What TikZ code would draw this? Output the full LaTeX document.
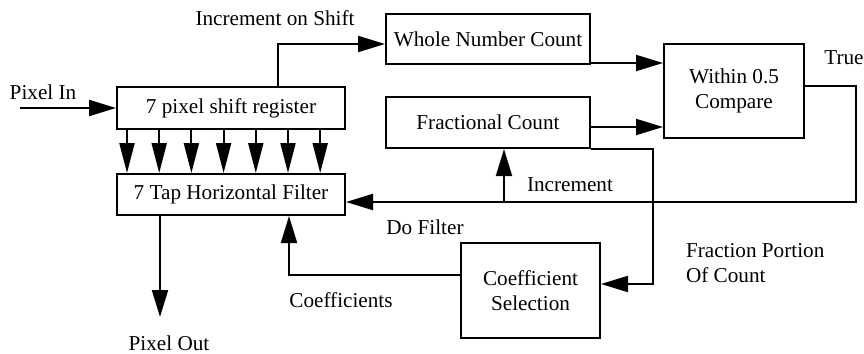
\documentclass[tikz,border=0pt]{standalone}
\usepackage{fontspec}
\setmainfont{Liberation Serif}
\usetikzlibrary{arrows.meta,calc}
\begin{document}
\begin{tikzpicture}[x=0.5pt,y=-0.5pt,
  font=\fontsize{10.6}{12.5}\selectfont,
  line width=1pt,
  blk/.style={draw,line width=1pt,inner sep=0pt,align=center},
  arr/.style={-{Triangle[length=13.5pt,width=8pt]}},
  taparr/.style={-{Triangle[length=15pt,width=7.5pt]}},
  lbl/.style={inner sep=0pt}]
\useasboundingbox (0,0) rectangle (864,354);

% blocks
\node[blk,minimum width=114pt,minimum height=21pt] (sr) at (231,108) {7 pixel shift register};
\node[blk,minimum width=114pt,minimum height=20.5pt] (filt) at (231,194.5) {7 Tap Horizontal Filter};
\node[blk,minimum width=102pt,minimum height=25pt] (wn) at (488,39) {Whole Number Count};
\node[blk,minimum width=102pt,minimum height=25.5pt] (fc) at (488,122.5) {Fractional Count};
\node[blk,minimum width=70pt,minimum height=47pt] (cmp) at (734,91) {Within 0.5\\Compare};
\node[blk,minimum width=69.5pt,minimum height=47.5pt] (cs) at (530.5,290.5) {Coefficient\\Selection};

% labels
\node[lbl] (lpin) at (43,92) {Pixel In};
\node[lbl] (linc) at (275,18) {Increment on Shift};
\node[lbl] (ltrue) at (844,58) {True};
\node[lbl] (lincr) at (570,185) {Increment};
\node[lbl] (ldof) at (425,227) {Do Filter};
\node[lbl,align=left,anchor=west] (lfrac) at (685,263) {Fraction Portion\\Of Count};
\node[lbl] (lcoef) at (341,300) {Coefficients};
\node[lbl] (lpout) at (169,343) {Pixel Out};

% routing points
\coordinate (pin) at (20,108);
\coordinate (incx) at (278,44);
\coordinate (w2c) at (590,63);
\coordinate (f2c) at (590,127);
\coordinate (trueR) at (856,86);
\coordinate (dof) at (856,202);
\coordinate (incb) at (504,202);
\coordinate (fpb) at (653,284);
\coordinate (cf) at (289,275);
\coordinate (pout) at (160,317);

% connectors
\draw[arr] (pin) -- (pin -| sr.west);
\draw[arr] (sr.north -| incx) -- (incx) -- (incx -| wn.west);
\draw[arr] (w2c) -- (w2c -| cmp.west);
\draw[arr] (f2c) -- (f2c -| cmp.west);
\draw[arr] (cmp.east |- trueR) -- (trueR) -- (dof) -- (dof -| filt.east);
\draw[arr] (incb) -- (incb |- fc.south);
\draw[arr] (fc.south east) -| (fpb) -- (fpb -| cs.east);
\draw[arr] (cs.west |- cf) -- (cf) -- (cf |- filt.south);
\draw[arr] (pout |- filt.south) -- (pout);

% seven taps from the shift register into the filter
\foreach \i in {0,...,6}
  \draw[taparr] ($(sr.south west)+(11+32.2*\i,0)$) -- ($(filt.north west)+(11+32.2*\i,0)$);
\end{tikzpicture}
\end{document}
